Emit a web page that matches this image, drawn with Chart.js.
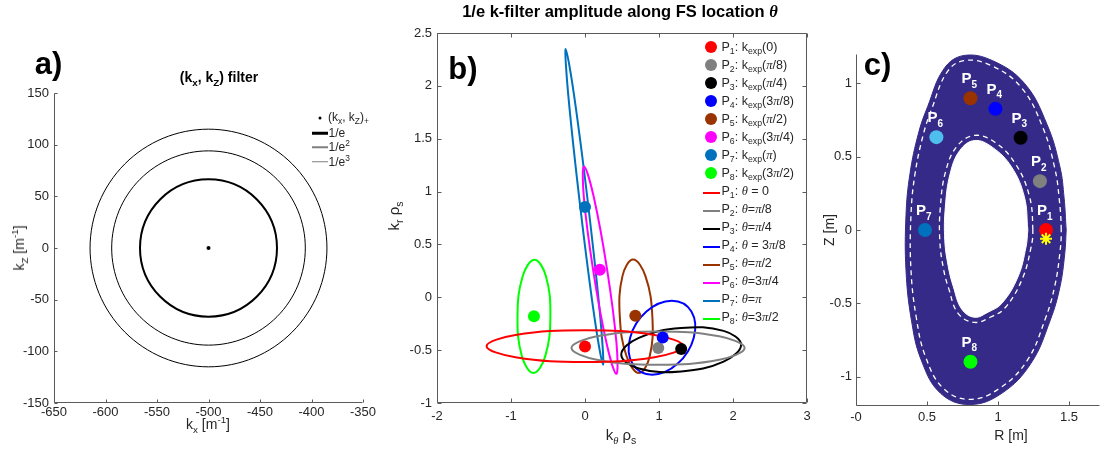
<!DOCTYPE html>
<html>
<head>
<meta charset="utf-8">
<script src="https://cdn.jsdelivr.net/npm/chart.js@4.4.1/dist/chart.umd.min.js"></script>
<style>
  body { margin: 0; background: #fff; }
  #fig { position: relative; width: 1108px; height: 451px; overflow: hidden; background: #fff;
         font-family: "Liberation Sans", Arial, Helvetica, sans-serif; color: #262626; }
  canvas { position: absolute; top: 0; }
  .t { position: absolute; white-space: nowrap; line-height: 1; transform: translate(-50%, -50%); }
  .l { position: absolute; white-space: nowrap; line-height: 1; transform: translateY(-50%); }
  .rot { transform: translate(-50%, -50%) rotate(-90deg); }
  .b { font-weight: bold; color: #000; }
  .g { font-family: "Liberation Serif", "DejaVu Serif", serif; font-style: italic; }
  sub, sup { font-size: 70%; line-height: 0; }
  .dot { position: absolute; border-radius: 50%; transform: translate(-50%, -50%); }
  .sw { position: absolute; transform: translateY(-50%); }
</style>
</head>
<body>
<div id="fig">
  <canvas id="ca" width="380" height="451" style="left:0px"></canvas>
  <canvas id="cb" width="445" height="451" style="left:375px"></canvas>
  <canvas id="cc" width="298" height="451" style="left:810px"></canvas>
</div>
<script>
// ---- panel a: (kx, kZ) filter contours [m^-1] ----
const aCenter = [-500, 0];
const aRingE1 = [[-433.5, 0], [-453, 47], [-500, 66.5], [-547, 47], [-566.5, 0], [-547, -47], [-500, -66.5], [-453, -47]];
const aRingE2 = [[-406, 0], [-433.5, 66.5], [-500, 94], [-566.5, 66.5], [-594, 0], [-566.5, -66.5], [-500, -94], [-433.5, -66.5]];
const aRingE3 = [[-385, 0], [-418.7, 81.3], [-500, 115], [-581.3, 81.3], [-615, 0], [-581.3, -81.3], [-500, -115], [-418.7, -81.3]];
const aTicksX = [-650, -600, -550, -500, -450, -400, -350];
const aTicksY = [-150, -100, -50, 0, 50, 100, 150];

// ---- panel b: k_exp points and 1/e filter ellipses (k_theta rho_s, k_r rho_s) ----
const bColors = ['#ff0000', '#808080', '#000000', '#0000ff', '#993300', '#ff00ff', '#0072bd', '#00ff00'];
const bKtheta = [0.0, 0.99, 1.30, 1.05, 0.68, 0.20, 0.0, -0.69];
const bKr = [-0.465, -0.48, -0.49, -0.38, -0.175, 0.26, 0.854, -0.18];
const ellP1 = [[1.33, -0.462], [0.94, -0.356], [0, -0.312], [-0.94, -0.356], [-1.33, -0.462], [-0.94, -0.568], [0, -0.612], [0.94, -0.568]];
const ellP2 = [[2.157, -0.48], [1.814, -0.369], [0.987, -0.323], [0.16, -0.369], [-0.183, -0.48], [0.16, -0.591], [0.987, -0.637], [1.814, -0.591]];
const ellP3 = [[2.11, -0.449], [1.873, -0.318], [1.30, -0.291], [0.727, -0.384], [0.49, -0.543], [0.727, -0.674], [1.30, -0.701], [1.873, -0.608]];
const ellP4 = [[1.173, -0.032], [1.438, -0.135], [1.47, -0.382], [1.25, -0.629], [0.907, -0.732], [0.642, -0.629], [0.61, -0.382], [0.83, -0.135]];
const ellP5 = [[0.65, 0.357], [0.817, 0.2], [0.91, -0.18], [0.874, -0.56], [0.73, -0.717], [0.563, -0.56], [0.47, -0.18], [0.506, 0.2]];
const ellP6 = [[-0.013, 1.238], [0.118, 0.951], [0.30, 0.257], [0.426, -0.437], [0.423, -0.724], [0.292, -0.437], [0.11, 0.257], [-0.016, 0.951]];
const ellP7 = [[-0.261, 2.349], [-0.148, 1.912], [0.046, 0.856], [0.208, -0.2], [0.243, -0.637], [0.13, -0.2], [-0.064, 0.856], [-0.226, 1.912]];
const ellP8 = [[-0.683, 0.356], [-0.528, 0.199], [-0.468, -0.18], [-0.538, -0.559], [-0.697, -0.716], [-0.852, -0.559], [-0.912, -0.18], [-0.842, 0.199]];
const bEllipses = [ellP1, ellP2, ellP3, ellP4, ellP5, ellP6, ellP7, ellP8];
const bMarkLabels = ['(0)', '(<i class="g">π</i>/8)', '(<i class="g">π</i>/4)', '(3<i class="g">π</i>/8)', '(<i class="g">π</i>/2)',
                     '(3<i class="g">π</i>/4)', '(<i class="g">π</i>)', '(3<i class="g">π</i>/2)'];
const bLineLabels = ['<i class="g">θ</i> = 0', '<i class="g">θ</i>=<i class="g">π</i>/8', '<i class="g">θ</i>=<i class="g">π</i>/4',
                     '<i class="g">θ</i> = 3<i class="g">π</i>/8', '<i class="g">θ</i>=<i class="g">π</i>/2', '<i class="g">θ</i>=3<i class="g">π</i>/4',
                     '<i class="g">θ</i>=<i class="g">π</i>', '<i class="g">θ</i>=3<i class="g">π</i>/2'];
const bTicksX = [-2, -1, 0, 1, 2, 3];
const bTicksY = [-1, -0.5, 0, 0.5, 1, 1.5, 2, 2.5];

// ---- panel c: poloidal cross-section (R, Z) [m] ----
const cColors = ['#ff0000', '#808080', '#000000', '#0000ff', '#993300', '#4dbeee', '#0072bd', '#00ff00'];
const cR = [1.338, 1.295, 1.159, 0.982, 0.806, 0.566, 0.486, 0.806];
const cZ = [0.0, 0.333, 0.629, 0.826, 0.898, 0.633, 0.0, -0.898];
const cStar = [1.338, -0.06];
const cOuter = [[1.48, 0.0], [1.465, 0.22], [1.436, 0.43], [1.345, 0.72], [1.186, 1.0], [0.96, 1.155], [0.76, 1.19], [0.62, 1.10],
                [0.504, 0.84], [0.44, 0.66], [0.38, 0.384], [0.352, 0.10], [0.352, -0.274], [0.39, -0.614], [0.459, -0.886],
                [0.595, -1.113], [0.80, -1.19], [1.027, -1.113], [1.232, -0.909], [1.368, -0.614], [1.436, -0.388], [1.47, -0.16]];
const cOuterDash = [[1.445, 0.0], [1.43, 0.22], [1.40, 0.42], [1.315, 0.70], [1.165, 0.97], [0.955, 1.12], [0.76, 1.155], [0.64, 1.075],
                    [0.535, 0.83], [0.475, 0.655], [0.415, 0.38], [0.387, 0.10], [0.387, -0.27], [0.425, -0.60], [0.49, -0.865],
                    [0.615, -1.08], [0.80, -1.155], [1.01, -1.08], [1.205, -0.89], [1.335, -0.60], [1.40, -0.38], [1.435, -0.16]];
const cInner = [[1.21, 0.0], [1.186, 0.224], [1.095, 0.43], [0.959, 0.565], [0.834, 0.61], [0.731, 0.542], [0.663, 0.384], [0.629, 0.156],
                [0.625, -0.07], [0.65, -0.25], [0.686, -0.388], [0.745, -0.54], [0.834, -0.595], [0.93, -0.56], [1.027, -0.5],
                [1.14, -0.32], [1.197, -0.116]];
const cInnerDash = [[1.245, 0.0], [1.22, 0.235], [1.12, 0.455], [0.975, 0.60], [0.834, 0.645], [0.71, 0.57], [0.63, 0.395], [0.594, 0.156],
                    [0.59, -0.07], [0.615, -0.26], [0.653, -0.40], [0.72, -0.57], [0.834, -0.63], [0.945, -0.595], [1.05, -0.53],
                    [1.17, -0.335], [1.232, -0.12]];
const cTicksX = [0, 0.5, 1, 1.5];
const cLabelsX = ['-0', '0.5', '1', '1.5'];
const cTicksY = [-1, -0.5, 0, 0.5, 1];

const FONT = '"Liberation Sans", Arial, Helvetica, sans-serif';
Chart.defaults.font.family = FONT;

const pts = arr => arr.map(([x, y]) => ({ x, y }));

// closed smooth curve: wrap one point on each side, hide the two extra segments
function curve(arr, color, width, extra) {
  const n = arr.length;
  const data = pts([arr[n - 1], ...arr, arr[0], arr[1]]);
  const last = data.length - 2;
  return Object.assign({
    data, showLine: true, borderColor: color, borderWidth: width, pointRadius: 0, tension: 0.4, fill: false,
    segment: { borderColor: c => (c.p0DataIndex === 0 || c.p0DataIndex === last) ? 'rgba(0,0,0,0)' : undefined }
  }, extra || {});
}

// axis lines + inward tick marks, like the original figure
const frame = {
  id: 'frame',
  afterDraw(chart, args, o) {
    const { ctx, chartArea: a, scales: { x, y } } = chart;
    const L = Math.round(a.left) + 0.5, R = Math.round(a.right) - 0.5;
    const T = Math.round(a.top) + 0.5, B = Math.round(a.bottom) - 0.5;
    ctx.save();
    ctx.strokeStyle = '#5a5a5a';
    ctx.lineWidth = 1;
    ctx.beginPath();
    ctx.moveTo(L, T); ctx.lineTo(L, B); ctx.lineTo(R, B);
    if (o.box) { ctx.lineTo(R, T); ctx.lineTo(L, T); }
    x.ticks.forEach(t => {
      const p = Math.round(x.getPixelForValue(t.value)) + 0.5;
      ctx.moveTo(p, B); ctx.lineTo(p, B - o.len);
      if (o.box) { ctx.moveTo(p, T); ctx.lineTo(p, T + o.len); }
    });
    y.ticks.forEach(t => {
      const p = Math.round(y.getPixelForValue(t.value)) + 0.5;
      ctx.moveTo(L, p); ctx.lineTo(L + o.len, p);
      if (o.box) { ctx.moveTo(R, p); ctx.lineTo(R - o.len, p); }
    });
    ctx.stroke();
    ctx.restore();
  }
};

// white P_n labels above the points of panel c
const pLabels = {
  id: 'pLabels',
  afterDatasetsDraw(chart) {
    const { ctx, scales: { x, y } } = chart;
    ctx.save();
    ctx.fillStyle = '#fff';
    cR.forEach((r, i) => {
      const px = x.getPixelForValue(r), py = y.getPixelForValue(cZ[i]);
      ctx.font = 'bold 15px ' + FONT;
      ctx.fillText('P', px - 9, py - 15);
      ctx.font = 'bold 10px ' + FONT;
      ctx.fillText(String(i + 1), px + 1, py - 10.5);
    });
    ctx.restore();
  }
};

function options(o) {
  return {
    responsive: false, animation: false, devicePixelRatio: 1, events: [],
    layout: { padding: { top: o.top, right: o.right, left: 0, bottom: 0 } },
    plugins: { legend: { display: false }, tooltip: { enabled: false }, frame: { box: o.box, len: o.len } },
    scales: {
      x: {
        type: 'linear', bounds: 'data', min: o.xMin, max: o.xMax,
        grid: { display: false, drawTicks: false }, border: { display: false },
        afterBuildTicks: s => { s.ticks = o.xTicks.map(v => ({ value: v })); },
        afterFit: s => { s.height = o.xH; },
        ticks: { padding: o.xPad, color: '#262626', font: { size: 13 }, maxRotation: 0, autoSkip: false,
                 callback: (v, i) => o.xLabels ? o.xLabels[i] : String(v) }
      },
      y: {
        type: 'linear', bounds: 'data', min: o.yMin, max: o.yMax,
        grid: { display: false, drawTicks: false }, border: { display: false },
        afterBuildTicks: s => { s.ticks = o.yTicks.map(v => ({ value: v })); },
        afterFit: s => { s.width = o.yW; },
        ticks: { padding: o.yPad, color: '#262626', font: { size: 13 }, autoSkip: false, callback: v => String(v) }
      }
    }
  };
}

// panel a
new Chart(document.getElementById('ca'), {
  type: 'scatter',
  data: { datasets: [
    { data: pts([aCenter]), pointRadius: 2, pointBackgroundColor: '#000', pointBorderWidth: 0 },
    curve(aRingE1, '#000', 2, { tension: 0.375 }),
    curve(aRingE2, '#000', 1, { tension: 0.375 }),
    curve(aRingE3, '#000', 1, { tension: 0.375 })
  ] },
  options: options({ top: 93, right: 17, xH: 48, yW: 54, xPad: 2, yPad: 5, box: false, len: 3,
    xMin: -650, xMax: -350, yMin: -150, yMax: 150, xTicks: aTicksX, yTicks: aTicksY }),
  plugins: [frame]
});

// panel b
new Chart(document.getElementById('cb'), {
  type: 'scatter',
  data: { datasets: [
    { data: bKtheta.map((k, i) => ({ x: k, y: bKr[i] })), pointRadius: 6, pointBackgroundColor: bColors, pointBorderWidth: 0 },
    ...bEllipses.map((e, i) => curve(e, bColors[i], 2))
  ] },
  options: options({ top: 33, right: 13, xH: 48, yW: 62, xPad: 6, yPad: 5, box: true, len: 4,
    xMin: -2, xMax: 3, yMin: -1, yMax: 2.5, xTicks: bTicksX, yTicks: bTicksY }),
  plugins: [frame]
});

// panel c
new Chart(document.getElementById('cc'), {
  type: 'scatter',
  data: { datasets: [
    { data: pts([cStar]), pointStyle: 'star', pointRadius: 6, pointBorderColor: '#ffff00', pointBorderWidth: 2 },
    { data: cR.map((r, i) => ({ x: r, y: cZ[i] })), pointRadius: 7, pointBackgroundColor: cColors, pointBorderWidth: 0 },
    curve(cOuterDash, '#ffffff', 1.3, { borderDash: [5, 4] }),
    curve(cInnerDash, '#ffffff', 1.3, { borderDash: [5, 4] }),
    { data: pts([...cInner, cInner[0]]), showLine: true, tension: 0.4, pointRadius: 0, borderWidth: 1,
      borderColor: '#ffffff', backgroundColor: '#ffffff', fill: 'shape' },
    { data: pts([...cOuter, cOuter[0]]), showLine: true, tension: 0.4, pointRadius: 0, borderWidth: 1,
      borderColor: '#352a87', backgroundColor: '#352a87', fill: 'shape' }
  ] },
  options: options({ top: 54, right: 0, xH: 45, yW: 46, xPad: 4, yPad: 4, box: false, len: 4,
    xMin: 0, xMax: 1.718, yMin: -1.2, yMax: 1.2, xTicks: cTicksX, xLabels: cLabelsX, yTicks: cTicksY }),
  plugins: [frame, pLabels]
});

// ---- text: titles, axis labels, legends ----
const fig = document.getElementById('fig');
function txt(html, x, y, style, cls) {
  const d = document.createElement('div');
  d.className = cls || 't';
  d.innerHTML = html;
  d.style.left = x + 'px';
  d.style.top = y + 'px';
  d.style.cssText += style || '';
  fig.appendChild(d);
  return d;
}
function box(cls, x, y, w, h, color) {
  const d = document.createElement('div');
  d.className = cls;
  d.style.cssText = `left:${x}px;top:${y}px;width:${w}px;height:${h}px;background:${color}`;
  fig.appendChild(d);
}

txt('a)', 48.5, 63, 'font-size:31px', 't b');
txt('b)', 463, 67.5, 'font-size:31px', 't b');
txt('c)', 877.5, 63.5, 'font-size:31px', 't b');

txt('(k<sub>x</sub>, k<sub>Z</sub>) filter', 219, 77, 'font-size:14px', 't b');
txt('1/e k-filter amplitude along FS location <i class="g">θ</i>', 620, 11.5, 'font-size:16.5px', 't b');

txt('k<sub>Z</sub> [m<sup>-1</sup>]', 19, 248, 'font-size:14px', 't rot');
txt('k<sub>x</sub> [m<sup>-1</sup>]', 208, 424, 'font-size:14px');
txt('k<sub>r</sub> ρ<sub>s</sub>', 393, 216, 'font-size:15px', 't rot');
txt('k<sub><i class="g">θ</i></sub> ρ<sub>s</sub>', 621, 434, 'font-size:15px');
txt('Z [m]', 829, 230, 'font-size:14px', 't rot');
txt('R [m]', 1011, 435, 'font-size:14px');

// legend a
box('dot', 320, 117.7, 3, 3, '#000');
txt('(k<sub>x</sub>, k<sub>Z</sub>)<sub>+</sub>', 328, 117, 'font-size:12px', 'l');
box('sw', 311.7, 133.3, 16.6, 2.5, '#000');
txt('1/e', 328.5, 133.3, 'font-size:12px', 'l');
box('sw', 311.7, 147, 16.6, 1.5, '#808080');
txt('1/e<sup>2</sup>', 328.5, 147, 'font-size:12px', 'l');
box('sw', 311.7, 161.7, 16.6, 1.5, '#808080');
txt('1/e<sup>3</sup>', 328.5, 161.7, 'font-size:12px', 'l');

// legend b
bColors.forEach((c, i) => {
  const y = 47.3 + 18 * i;
  box('dot', 710.5, y, 12, 12, c);
  txt(`P<sub>${i + 1}</sub>: k<sub>exp</sub>${bMarkLabels[i]}`, 721.5, y, 'font-size:12.5px', 'l');
});
bColors.forEach((c, i) => {
  const y = 47.3 + 18 * (i + 8);
  box('sw', 702.5, y + 1.5, 17.5, 2, c);
  txt(`P<sub>${i + 1}</sub>: ${bLineLabels[i]}`, 721.5, y, 'font-size:12.5px', 'l');
});
</script>
</body>
</html>
